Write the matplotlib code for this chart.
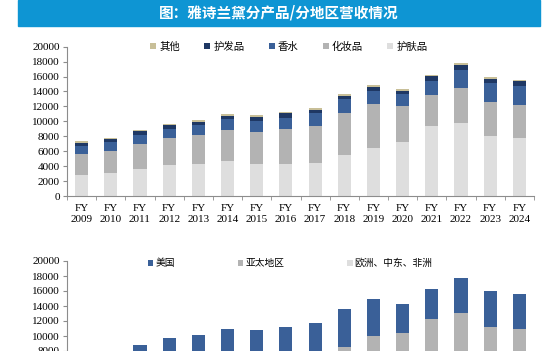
import matplotlib
matplotlib.use("Agg")
import matplotlib.pyplot as plt
from matplotlib.patches import Rectangle
import numpy as np

plt.rcParams['font.family'] = ['Noto Sans CJK SC', 'DejaVu Sans']

years = ["FY\n%d" % y for y in range(2009, 2025)]

# 分产品 (百万美元)
skin = [2770, 3080, 3620, 4150, 4330, 4690, 4330, 4290, 4380, 5490, 6430, 7280, 9330, 9780, 8040, 7810]
cosm = [2810, 2990, 3350, 3660, 3840, 4200, 4290, 4730, 5040, 5620, 5850, 4780, 4200, 4640, 4550, 4420]
frag = [1160, 1160, 1160, 1210, 1340, 1380, 1430, 1470, 1650, 1830, 1790, 1560, 1920, 2500, 2550, 2550]
hair = [400, 400, 540, 450, 450, 490, 540, 580, 450, 490, 580, 450, 580, 620, 580, 580]
other = [220, 180, 180, 220, 220, 220, 220, 180, 270, 220, 220, 220, 220, 220, 220, 220]

# 分地区
emea = [2910, 3100, 3520, 3770, 3860, 4200, 3980, 4060, 4460, 5400, 6700, 6200, 7100, 7900, 6930, 6600]
apac = [1120, 1250, 1610, 1910, 2100, 2330, 2330, 2560, 2640, 3080, 3260, 4160, 5170, 5120, 4320, 4290]
us = [3330, 3460, 3720, 4010, 4220, 4450, 4500, 4630, 4690, 5170, 4910, 3930, 3980, 4740, 4690, 4690]

c_other = '#c8bf98'
c_hair = '#1f3864'
c_blue = '#3a6098'
c_grey = '#b3b3b3'
c_light = '#dedede'
spine_c = '#8c8c8c'

W, H = 557, 351
fig = plt.figure(figsize=(W / 100, H / 100), dpi=100)

# title banner
fig.patches.append(Rectangle((18 / W, 1 - 26 / H), 522 / W, 26 / H,
                             transform=fig.transFigure, color='#0e95d3', zorder=0))
fig.text(279 / W, 1 - 13 / H, "图：雅诗兰黛分产品/分地区营收情况", color='white',
         fontsize=10.5, fontweight='bold', ha='center', va='center')

x = np.arange(len(years))
bw = 0.45


def style_axes(ax, xlabels=True):
    for s in ['top', 'right']:
        ax.spines[s].set_visible(False)
    for s in ['left', 'bottom']:
        ax.spines[s].set_color(spine_c)
        ax.spines[s].set_linewidth(0.8)
    ax.set_xlim(-0.5, len(years) - 0.5)
    ax.set_ylim(0, 20000)
    ax.set_yticks(range(0, 20001, 2000))
    ax.tick_params(axis='y', direction='out', length=3, color=spine_c, pad=2)
    for lab in ax.get_yticklabels():
        lab.set_fontfamily('Liberation Serif')
        lab.set_fontsize(8)
    ax.set_xticks(x)
    if xlabels:
        ax.set_xticklabels(years, fontfamily='Liberation Serif', fontsize=8, linespacing=1.25)
    else:
        ax.set_xticklabels([])
    ax.tick_params(axis='x', which='major', length=0, pad=6)
    ax.set_xticks(np.arange(-0.5, len(years)), minor=True)
    ax.tick_params(axis='x', which='minor', direction='out', length=3, color=spine_c)


# ---- top: by product
ax1 = fig.add_axes([67 / W, 1 - 196 / H, 467 / W, 149.3 / H])
b = np.zeros(len(years))
bars = {}
for name, vals, col in [("护肤品", skin, c_light), ("化妆品", cosm, c_grey),
                        ("香水", frag, c_blue), ("护发品", hair, c_hair),
                        ("其他", other, c_other)]:
    bars[name] = ax1.bar(x, vals, bw, bottom=b, color=col, label=name)
    b += np.array(vals)
style_axes(ax1)
order = ["其他", "护发品", "香水", "化妆品", "护肤品"]
ax1.legend([bars[k] for k in order], order, ncol=5, frameon=False, fontsize=7.5,
           loc='center', bbox_to_anchor=(0.475, 1.0), handlelength=0.6, handleheight=0.6,
           handletextpad=0.3, columnspacing=2.3, borderaxespad=0)

# ---- bottom: by region (cut off by figure edge, x labels not visible)
ax2 = fig.add_axes([67 / W, 1 - 411 / H, 467 / W, 150 / H])
b = np.zeros(len(years))
bars2 = {}
for name, vals, col in [("欧洲、中东、非洲", emea, c_light), ("亚太地区", apac, c_grey),
                        ("美国", us, c_blue)]:
    bars2[name] = ax2.bar(x, vals, bw, bottom=b, color=col, label=name)
    b += np.array(vals)
style_axes(ax2, xlabels=False)
order2 = ["美国", "亚太地区", "欧洲、中东、非洲"]
ax2.legend([bars2[k] for k in order2], order2, ncol=3, frameon=False, fontsize=7,
           loc='center', bbox_to_anchor=(0.478, 0.985), handlelength=0.55, handleheight=0.55,
           handletextpad=0.2, columnspacing=6.5, borderaxespad=0)

fig.savefig("out.png", dpi=100)
